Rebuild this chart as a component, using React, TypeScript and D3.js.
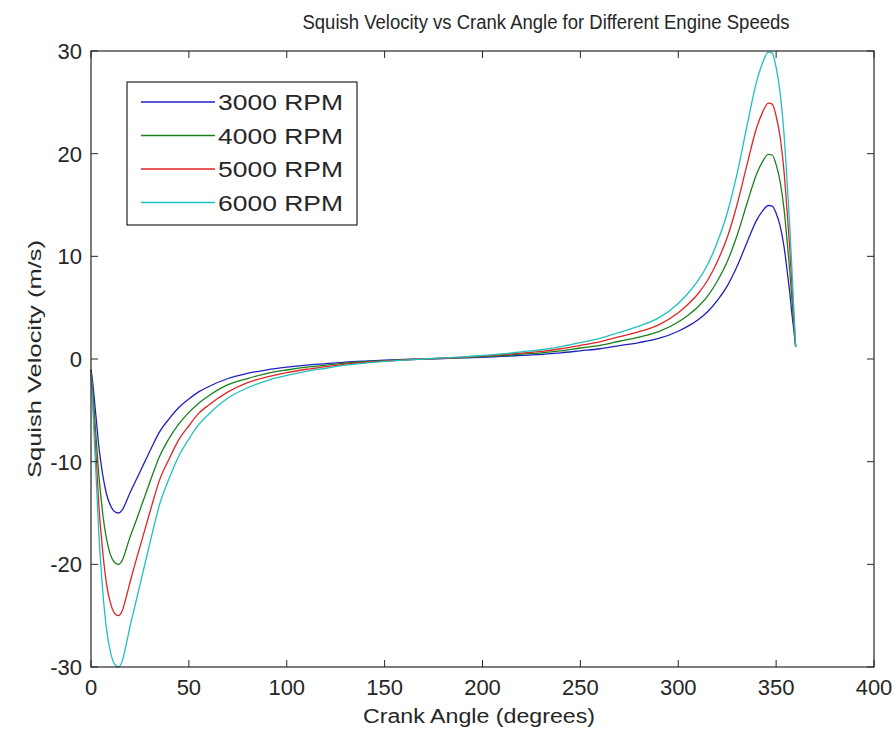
import React from 'react';
import * as d3 from 'd3';

// crank angle samples (degrees)
const angles = [
  0, 1, 2, 3, 4, 5, 6, 8, 10, 12, 14, 16, 18, 20, 22, 25, 28, 31, 35, 40, 45, 50, 55, 60,
  70, 80, 90, 100, 110, 120, 130, 140, 150, 160, 170, 180, 190, 200, 210, 220, 230, 240,
  250, 260, 270, 280, 290, 300, 305, 310, 315, 320, 325, 330, 335, 340, 343, 346, 348,
  350, 352, 354, 356, 357, 358, 359, 360,
];

// squish velocity (m/s)
const rpm3000 = [
  -1, -2.5, -4.5, -6.5, -8.5, -10, -11.3, -13.2, -14.3, -14.85, -15, -14.7, -13.9, -13, -12.2, -11, -9.8, -8.6, -7.1, -5.8, -4.7, -3.9, -3.2, -2.7,
  -1.9, -1.4, -1.05, -0.8, -0.6, -0.45, -0.3, -0.2, -0.12, -0.05, 0, 0.05, 0.1, 0.17, 0.25, 0.35, 0.45, 0.6,
  0.8, 1, 1.3, 1.6, 2, 2.7, 3.2, 3.8, 4.6, 5.7, 7.1, 9, 11.3, 13.5, 14.4, 14.95, 14.9,
  14.2, 13, 11, 8, 6.4, 4.5, 2.9, 1.2,
];
const rpm4000 = [
  -1.1, -3.3, -6, -8.7, -11.3, -13.3, -15.1, -17.6, -19.1, -19.8, -20, -19.6, -18.5, -17.3, -16.3, -14.7, -13.1, -11.5, -9.5, -7.7, -6.3, -5.2, -4.3, -3.6,
  -2.5, -1.9, -1.4, -1.07, -0.8, -0.6, -0.4, -0.27, -0.16, -0.07, 0, 0.07, 0.13, 0.23, 0.33, 0.47, 0.6, 0.8,
  1.07, 1.33, 1.73, 2.13, 2.67, 3.6, 4.27, 5.07, 6.13, 7.6, 9.47, 12, 15.07, 18, 19.2, 19.93, 19.87,
  18.93, 17.33, 14.67, 10.67, 8.53, 6, 3.5, 1.2,
];
const rpm5000 = [
  -1.2, -4.2, -7.5, -10.8, -14.2, -16.7, -18.8, -22, -23.8, -24.75, -25, -24.5, -23.2, -21.7, -20.3, -18.3, -16.3, -14.3, -11.8, -9.7, -7.8, -6.5, -5.3, -4.5,
  -3.2, -2.3, -1.75, -1.33, -1, -0.75, -0.5, -0.33, -0.2, -0.08, 0, 0.08, 0.17, 0.28, 0.42, 0.58, 0.75, 1,
  1.33, 1.67, 2.17, 2.67, 3.33, 4.5, 5.33, 6.33, 7.67, 9.5, 11.83, 15, 18.83, 22.5, 24, 24.92, 24.83,
  23.67, 21.67, 18.33, 13.33, 10.67, 7.5, 4.2, 1.2,
];
const rpm6000 = [
  -1.3, -5, -9, -13, -17, -20, -22.6, -26.4, -28.6, -29.7, -30, -29.4, -27.8, -26, -24.4, -22, -19.6, -17.2, -14.2, -11.6, -9.4, -7.8, -6.4, -5.4,
  -3.8, -2.8, -2.1, -1.6, -1.2, -0.9, -0.6, -0.4, -0.24, -0.1, 0, 0.1, 0.2, 0.34, 0.5, 0.7, 0.9, 1.2,
  1.6, 2, 2.6, 3.2, 4, 5.4, 6.4, 7.6, 9.2, 11.4, 14.2, 18, 22.6, 27, 28.8, 29.9, 29.8,
  28.4, 26, 22, 16, 12.8, 9, 5, 1.2,
];

const seriesNames = ['3000 RPM', '4000 RPM', '5000 RPM', '6000 RPM'];
const seriesValues = [rpm3000, rpm4000, rpm5000, rpm6000];
const seriesColors = ['#2020c0', '#1a801a', '#e02424', '#22bfbf'];

const xTicks = [0, 50, 100, 150, 200, 250, 300, 350, 400];
const yTicks = [-30, -20, -10, 0, 10, 20, 30];

const W = 896;
const H = 730;
const plot = { left: 91, right: 874, top: 51, bottom: 667 };
const axisColor = '#262626';
const font = '"Liberation Sans", Arial, sans-serif';

const App = () => {
  const x = d3.scaleLinear().domain([0, 400]).range([plot.left, plot.right]);
  const y = d3.scaleLinear().domain([-30, 30]).range([plot.bottom, plot.top]);

  const line = d3
    .line<number>()
    .x((_, i) => x(angles[i]))
    .y((d) => y(d))
    .curve(d3.curveMonotoneX);

  const tickLen = 7;
  const legend = { x: 127, y: 82, w: 230, h: 143, rowStart: 20, rowStep: 33.5 };

  return (
    <div style={{ position: 'absolute', left: 0, top: 0, width: W, height: H, background: '#fff' }}>
      <svg width={W} height={H} style={{ display: 'block', fontFamily: font }}>
        <rect x={0} y={0} width={W} height={H} fill="#ffffff" />

        {/* series */}
        <g fill="none" strokeWidth={1.3} strokeLinejoin="round">
          {seriesValues.map((vals, i) => (
            <path key={seriesNames[i]} d={line(vals) || ''} stroke={seriesColors[i]} />
          ))}
        </g>

        {/* axes box */}
        <rect
          x={plot.left}
          y={plot.top}
          width={plot.right - plot.left}
          height={plot.bottom - plot.top}
          fill="none"
          stroke={axisColor}
          strokeWidth={1.2}
        />

        {/* x ticks */}
        {xTicks.map((t) => (
          <g key={'x' + t} stroke={axisColor}>
            <line x1={x(t)} x2={x(t)} y1={plot.bottom} y2={plot.bottom - tickLen} />
            <line x1={x(t)} x2={x(t)} y1={plot.top} y2={plot.top + tickLen} />
          </g>
        ))}
        {xTicks.map((t) => (
          <text key={'xl' + t} x={x(t)} y={695} textAnchor="middle" fontSize={22} fill={axisColor}>
            {t}
          </text>
        ))}

        {/* y ticks */}
        {yTicks.map((t) => (
          <g key={'y' + t} stroke={axisColor}>
            <line x1={plot.left} x2={plot.left + tickLen} y1={y(t)} y2={y(t)} />
            <line x1={plot.right} x2={plot.right - tickLen} y1={y(t)} y2={y(t)} />
          </g>
        ))}
        {yTicks.map((t) => (
          <text key={'yl' + t} x={82} y={y(t) + 8} textAnchor="end" fontSize={22} fill={axisColor}>
            {t}
          </text>
        ))}

        {/* title and axis labels */}
        <text x={546} y={29} textAnchor="middle" fontSize={20} fill={axisColor} textLength={487} lengthAdjust="spacingAndGlyphs">
          Squish Velocity vs Crank Angle for Different Engine Speeds
        </text>
        <text x={479} y={723} textAnchor="middle" fontSize={20} fill={axisColor} textLength={232} lengthAdjust="spacingAndGlyphs">
          Crank Angle (degrees)
        </text>
        <text
          transform={`translate(41, ${(plot.top + plot.bottom) / 2}) rotate(-90)`}
          textAnchor="middle"
          fontSize={19}
          fill={axisColor}
          textLength={238}
          lengthAdjust="spacingAndGlyphs"
        >
          Squish Velocity (m/s)
        </text>

        {/* legend */}
        <g>
          <rect x={legend.x} y={legend.y} width={legend.w} height={legend.h} fill="#ffffff" stroke={axisColor} strokeWidth={1.2} />
          {seriesNames.map((name, i) => {
            const ry = legend.y + legend.rowStart + i * legend.rowStep;
            return (
              <g key={'lg' + name}>
                <line x1={141} x2={215} y1={ry} y2={ry} stroke={seriesColors[i]} strokeWidth={1.3} />
                <text x={218} y={ry + 8} fontSize={22} fill={axisColor} textLength={125} lengthAdjust="spacingAndGlyphs">
                  {name}
                </text>
              </g>
            );
          })}
        </g>
      </svg>
    </div>
  );
};

export default App;
